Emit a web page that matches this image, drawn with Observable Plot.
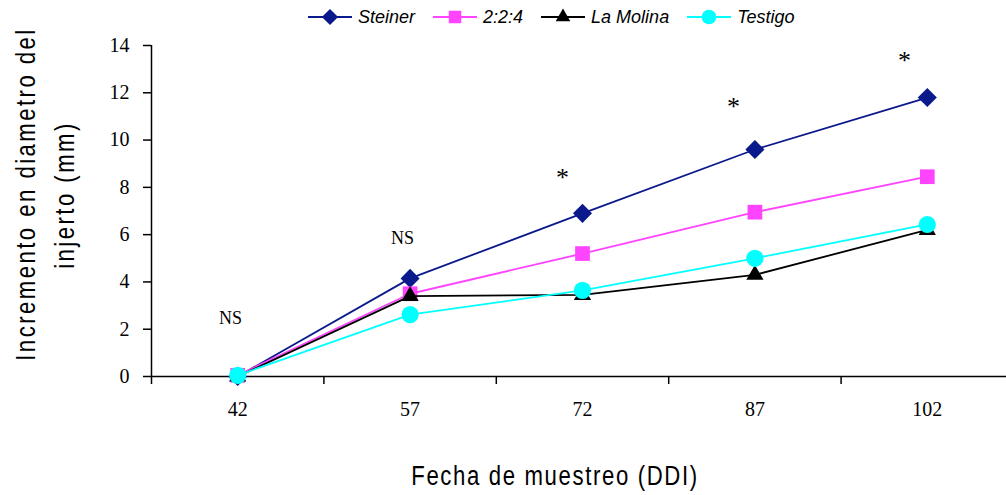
<!DOCTYPE html>
<html><head><meta charset="utf-8">
<script src="https://cdn.jsdelivr.net/npm/d3@7"></script>
<script src="https://cdn.jsdelivr.net/npm/@observablehq/plot@0.6"></script>
<style>
body{margin:0;background:#fff;}
#wrap{position:relative;width:1006px;height:495px;overflow:hidden;background:#fff;}
#chart{position:absolute;left:0;top:0;}
#legend{position:absolute;left:308px;top:6px;display:flex;align-items:center;font-family:"Liberation Sans",Arial,sans-serif;font-style:italic;font-size:18px;color:#000;}
.item{display:flex;align-items:center;margin-right:18px;}
.item svg{margin-right:6px;}
.title{position:absolute;font-family:"Liberation Sans Narrow","Liberation Sans",Arial,sans-serif;font-size:27px;color:#000;white-space:nowrap;}
</style></head><body>
<div id="wrap">
<div id="chart"></div>
<div id="legend"></div>
<div class="title" style="left:555px;top:476px;letter-spacing:2px;transform:translate(-50%,-50%) scaleX(0.82);">Fecha de muestreo (DDI)</div>
<div class="title" style="left:26px;top:194px;letter-spacing:3px;transform:translate(-50%,-50%) rotate(-90deg) scaleX(0.82);">Incremento en diametro del</div>
<div class="title" style="left:65px;top:195px;letter-spacing:3px;transform:translate(-50%,-50%) rotate(-90deg) scaleX(0.82);">injerto (mm)</div>
</div>
<script>
const days = [42, 57, 72, 87, 102];
const seriesNames = ["Steiner", "2:2:4", "La Molina", "Testigo"];
const steiner = [0, 4.15, 6.9, 9.6, 11.8];
const s224 = [0.05, 3.5, 5.2, 6.95, 8.45];
const laMolina = [0, 3.4, 3.45, 4.3, 6.2];
const testigo = [0.05, 2.62, 3.64, 5.0, 6.43];
const yTicks = [0, 2, 4, 6, 8, 10, 12, 14];
const xBounds = [34.5, 49.5, 64.5, 79.5, 94.5, 109.5];
const sigLabels = ["NS", "NS", "*", "*", "*"];
const sigX = [41.37, 56.34, 70.26, 85.14, 100.01];
const sigY = [2.45, 5.85, 8.4, 11.4, 13.35];

const colors = ["#0a1a8c", "#ff44ff", "#000000", "#00ffff"];
const symbols = ["square", "square", "triangle", "circle"];
const rotates = [45, 0, 0, 0];
const radii = [7.6, 8.3, 6.4, 8.6];
const values = [steiner, s224, laMolina, testigo];

const serif = "Liberation Serif, Times New Roman, serif";
const seriesMarks = [];
values.forEach((vals, i) => {
  const data = days.map((d, j) => ({day: d, v: vals[j], s: seriesNames[i]}));
  seriesMarks.push(Plot.line(data, {x: "day", y: "v", stroke: colors[i], strokeWidth: 1.8}));
  seriesMarks.push(Plot.dot(data, {x: "day", y: "v", fill: colors[i], symbol: symbols[i], r: radii[i], rotate: rotates[i], stroke: "none"}));
});
const sig = sigLabels.map((t, i) => ({t, x: sigX[i], y: sigY[i]}));

const chart = Plot.plot({
  width: 1006, height: 495,
  marginTop: 45, marginBottom: 119, marginLeft: 151, marginRight: -7,
  style: {background: "transparent", overflow: "visible"},
  x: {domain: [34.5, 109.5], range: [151, 1013]},
  y: {domain: [0, 14], range: [376, 45]},
  marks: [
    Plot.axisY({ticks: yTicks, tickSize: 8, tickPadding: 14, fontSize: 20, fontFamily: serif, label: null, stroke: "#000", strokeWidth: 1.5, fill: "#000"}),
    Plot.axisX({ticks: xBounds, tickSize: 8, tickFormat: () => "", label: null, stroke: "#000", strokeWidth: 1.5}),
    Plot.axisX({ticks: days, tickSize: 0, tickPadding: 25, fontSize: 20, fontFamily: serif, label: null, fill: "#000"}),
    Plot.ruleX([34.5], {y1: 0, y2: 14, stroke: "#000", strokeWidth: 1.5}),
    Plot.ruleY([0], {stroke: "#000", strokeWidth: 1.5}),
    ...seriesMarks,
    Plot.text(sig, {x: "x", y: "y", text: "t", fontFamily: serif, fontSize: d => d.t === "*" ? 26 : 18, fill: "#000"})
  ]
});
document.getElementById("chart").appendChild(chart);

// legend
const leg = document.getElementById("legend");
seriesNames.forEach((name, i) => {
  const item = document.createElement("div");
  item.className = "item";
  const sym = d3.symbol().type(i === 2 ? d3.symbolTriangle : i === 3 ? d3.symbolCircle : d3.symbolSquare).size(Math.PI * (radii[i] * 0.85) ** 2)();
  item.innerHTML = `<svg width="44" height="22"><line x1="0" x2="44" y1="11" y2="11" stroke="${colors[i]}" stroke-width="1.8"/><path d="${sym}" transform="translate(22,11) rotate(${rotates[i]})" fill="${colors[i]}"/></svg><span>${name}</span>`;
  leg.appendChild(item);
});
</script>
</body></html>
